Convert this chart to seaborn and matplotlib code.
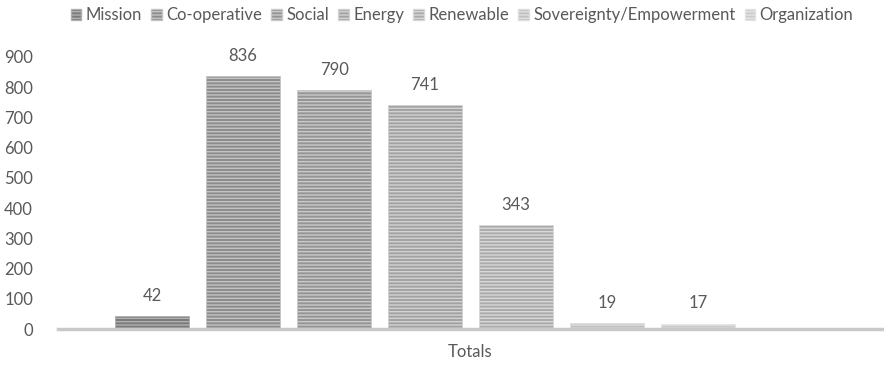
import matplotlib
matplotlib.use("Agg")
import matplotlib.pyplot as plt
import seaborn as sns
import pandas as pd

categories = ["Totals"]
series = ["Mission", "Co-operative", "Social", "Energy", "Renewable",
          "Sovereignty/Empowerment", "Organization", " "]
values = [42, 836, 790, 741, 343, 19, 17, 0]
face_colors = ["#7a7a7a", "#8c8c8c", "#949494", "#a2a2a2", "#ababab",
               "#c2c2c2", "#cbcbcb", "#ffffff"]
stripe_colors = ["#b0b0b0", "#c4c4c4", "#cacaca", "#d2d2d2", "#d8d8d8",
                 "#dedede", "#e4e4e4", "#ffffff"]
yticks = [0, 100, 200, 300, 400, 500, 600, 700, 800, 900]

sns.set_style("white")
plt.rcParams["font.family"] = ["Lato", "DejaVu Sans"]
plt.rcParams["hatch.linewidth"] = 1.0

df = pd.DataFrame({"cat": categories * len(series), "series": series, "value": values})

fig = plt.figure(figsize=(8.84, 3.65), dpi=100)
ax = fig.add_axes([58 / 884, 36 / 365, 825 / 884, 272 / 365])

sns.barplot(data=df, x="cat", y="value", hue="series", hue_order=series,
            palette=face_colors, width=0.882, gap=0.18, ax=ax,
            saturation=1, legend=True)

text_color = "#595959"
for i, cont in enumerate(ax.containers):
    for p in cont.patches:
        p.set_hatch("-----")
        p.set_edgecolor(stripe_colors[i])
        p.set_linewidth(0.6)
    if values[i] > 0:
        ax.bar_label(cont, labels=[str(values[i])], padding=9,
                     fontsize=12, color=text_color)

ax.set_ylim(0, 900)
ax.set_yticks(yticks)
ax.set_yticklabels([str(t) for t in yticks])
ax.tick_params(axis="y", length=0, labelsize=12, labelcolor=text_color, pad=18)
ax.tick_params(axis="x", length=0, labelsize=12, labelcolor=text_color, pad=11)
ax.set_xlabel("")
ax.set_ylabel("")
for s in ["top", "right", "left"]:
    ax.spines[s].set_visible(False)
ax.spines["bottom"].set_color("#c9c9c9")
ax.spines["bottom"].set_linewidth(2.5)

handles, labels = ax.get_legend_handles_labels()
ax.get_legend().remove()
hs = handles[:7]
ls = labels[:7]
for i, h in enumerate(hs):
    h.set_hatch("-----")
    h.set_edgecolor(stripe_colors[i])
    h.set_facecolor(face_colors[i])
fig.legend(hs, ls, loc="center", bbox_to_anchor=(462 / 884, 1 - 15 / 365),
           ncol=7, frameon=False, fontsize=12, labelcolor=text_color,
           handlelength=0.65, handleheight=0.65, handletextpad=0.25,
           columnspacing=0.55, borderaxespad=0)

fig.savefig("out.png", dpi=100)
